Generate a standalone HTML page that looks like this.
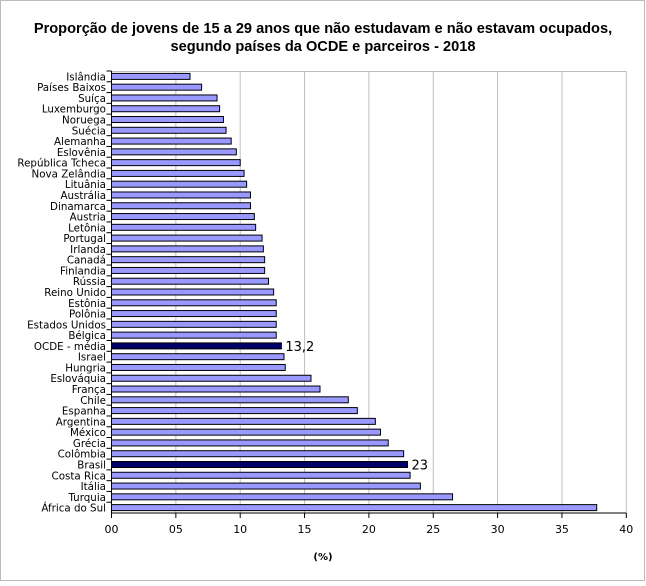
<!DOCTYPE html>
<html><head><meta charset="utf-8"><style>
body{margin:0;background:#fff;}
#wrap{position:relative;width:646px;height:582px;font-family:"DejaVu Sans",sans-serif;}
</style></head><body>
<div id="wrap">
<svg id="svg" width="646" height="582" xmlns="http://www.w3.org/2000/svg">
<rect x="0.5" y="0.5" width="644" height="580" fill="#fff" stroke="#bbb"/>
<text x="323" y="33" text-anchor="middle" font-size="14.6" font-weight="bold" font-family="Liberation Sans, sans-serif">Proporção de jovens de 15 a 29 anos que não estudavam e não estavam ocupados,</text>
<text x="323" y="51" text-anchor="middle" font-size="14.6" font-weight="bold" font-family="Liberation Sans, sans-serif">segundo países da OCDE e parceiros - 2018</text>
<text x="323" y="560" text-anchor="middle" font-size="10" font-weight="bold" font-family="DejaVu Sans, sans-serif">(%)</text>
<g id="grid"></g><g id="bars"></g><g id="axes"></g>
</svg>
</div>
<script>
const categories=["Islândia","Países Baixos","Suíça","Luxemburgo","Noruega","Suécia","Alemanha","Eslovênia","República Tcheca","Nova Zelândia","Lituânia","Austrália","Dinamarca","Austria","Letônia","Portugal","Irlanda","Canadá","Finlandia","Rússia","Reino Unido","Estônia","Polônia","Estados Unidos","Bélgica","OCDE - média","Israel","Hungria","Eslováquia","França","Chile","Espanha","Argentina","México","Grécia","Colômbia","Brasil","Costa Rica","Itália","Turquia","África do Sul"];
const values=[6.1,7.0,8.2,8.4,8.7,8.9,9.3,9.7,10.0,10.3,10.5,10.8,10.8,11.1,11.2,11.7,11.8,11.9,11.9,12.2,12.6,12.8,12.8,12.8,12.8,13.2,13.4,13.5,15.5,16.2,18.4,19.1,20.5,20.9,21.5,22.7,23.0,23.2,24.0,26.5,37.7];
const highlighted=["OCDE - média","Brasil"];
const valueLabels={"OCDE - média":"13,2","Brasil":"23"};
const xTicks=[0,5,10,15,20,25,30,35,40];
const xTickLabels=["00","05","10","15","20","25","30","35","40"];
const NS="http://www.w3.org/2000/svg";
const X0=111.5,X1=626.3,XMAX=40,YT=71,YB=513;
const n=categories.length;
const step=(YB-YT)/n;
function xs(v){return X0+(X1-X0)*v/XMAX;}
function yc(i){return YT+step*(i+0.5);}
function mk(tag,attrs,parent){const e=document.createElementNS(NS,tag);for(const k in attrs)e.setAttribute(k,attrs[k]);document.getElementById(parent).appendChild(e);return e;}
let t=mk('line',{x1:X0,x2:X1,y1:YT+0.5,y2:YT+0.5,stroke:'#bbb'},'grid');


xTicks.forEach((v,i)=>{
 if(v>0){const g=mk('line',{x1:xs(v),x2:xs(v),y1:YT,y2:YB,stroke:'#c0c0c0'},'grid');
 
 }
 const tk=mk('line',{x1:xs(v),x2:xs(v),y1:YB,y2:YB+5,stroke:'#000'},'axes');
 
 
 const lb=mk('text',{x:xs(v),y:YB+20,'text-anchor':'middle','font-size':'11','font-family':'DejaVu Sans, sans-serif'},'axes');
 lb.textContent=xTickLabels[i];
 
 
});
categories.forEach((c,i)=>{
 const hl=highlighted.includes(c);
 const b=mk('rect',{x:X0,y:yc(i)-3,width:xs(values[i])-X0,height:6,fill:hl?'#000066':'#9999ff',stroke:'#000','stroke-width':'1'},'bars');
 
 
 const l=mk('text',{x:106,y:yc(i)+4,'text-anchor':'end','font-size':'10.3','font-family':'DejaVu Sans, sans-serif'},'axes');
 l.textContent=c;
 
 
 if(valueLabels[c]){
  const v=mk('text',{x:xs(values[i])+4,y:yc(i)+5,'font-size':'13','font-family':'DejaVu Sans, sans-serif'},'axes');
  v.textContent=valueLabels[c];
  
  
 }
 const tk=mk('line',{x1:X0-5,x2:X0,y1:YT+step*i,y2:YT+step*i,stroke:'#000'},'axes');
 
 
});
let ax=mk('line',{x1:X0,x2:X0,y1:YT,y2:YB,stroke:'#000'},'axes');


ax=mk('line',{x1:X0,x2:X1,y1:YB,y2:YB,stroke:'#000'},'axes');


</script>
</body></html>
